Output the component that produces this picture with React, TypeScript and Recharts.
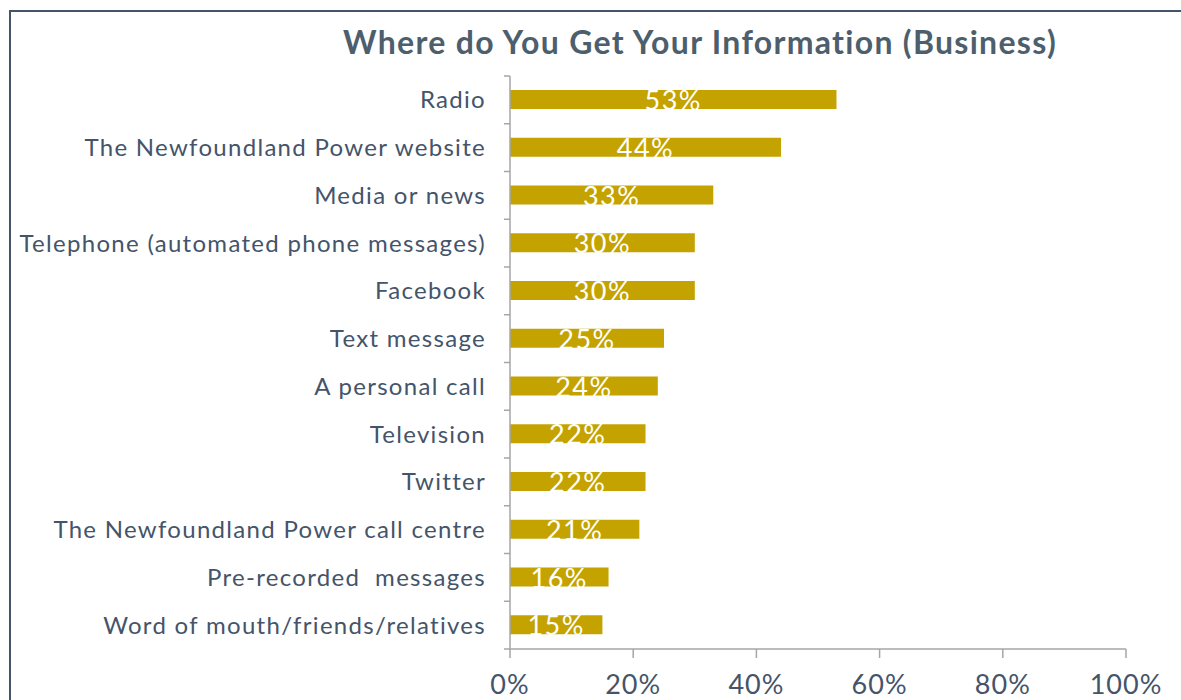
import React from "react";
import { BarChart, Bar, XAxis, YAxis, LabelList } from "recharts";

const categories = [
  "Radio",
  "The Newfoundland Power website",
  "Media or news",
  "Telephone (automated phone messages)",
  "Facebook",
  "Text message",
  "A personal call",
  "Television",
  "Twitter",
  "The Newfoundland Power call centre",
  "Pre-recorded  messages",
  "Word of mouth/friends/relatives",
];

const shares = [53, 44, 33, 30, 30, 25, 24, 22, 22, 21, 16, 15];

const xTicks = [0, 20, 40, 60, 80, 100];

const data = categories.map((name, i) => ({ name, value: shares[i] }));

const WIDTH = 1181;
const HEIGHT = 700;
const MARGIN = { top: 76, right: 55, bottom: 0, left: 0 };
const Y_AXIS_W = 510;
const X_AXIS_H = 51;
const BAND = (HEIGHT - MARGIN.top - MARGIN.bottom - X_AXIS_H) / categories.length;

const FONT = "Lato, 'Open Sans', sans-serif";
const TEXT = "#44546a";
const AXIS = "#a6a6a6";
const GOLD = "#c4a300";

const CategoryTick = ({ x, y, payload, index }: any) => {
  const axisX = Y_AXIS_W;
  const last = index === categories.length - 1;
  return (
    <g>
      <line x1={axisX - 6} x2={axisX} y1={y - BAND / 2} y2={y - BAND / 2} stroke={AXIS} strokeWidth={1.5} />
      {last && (
        <line x1={axisX - 6} x2={axisX} y1={y + BAND / 2} y2={y + BAND / 2} stroke={AXIS} strokeWidth={1.5} />
      )}
      <text
        x={x + 2}
        y={y}
        dy="0.355em"
        textAnchor="end"
        fontSize={24}
        fontFamily={FONT}
        letterSpacing={1.3}
        fill={TEXT}
        style={{ whiteSpace: "pre" }}
      >
        {payload.value}
      </text>
    </g>
  );
};

const BarLabel = ({ x, y, width, height, value }: any) => (
  <text
    x={x + width / 2}
    y={y + height + 1}
    textAnchor="middle"
    fontSize={27}
    fontFamily={FONT}
    letterSpacing={1.5}
    fill="#ffffff"
  >
    {value}%
  </text>
);

export default function App() {
  return (
    <div style={{ position: "absolute", left: 0, top: 0, width: WIDTH, height: HEIGHT, background: "#fff", overflow: "hidden" }}>
      <div
        style={{
          position: "absolute",
          left: 9,
          top: 10,
          width: 1170,
          height: 700,
          borderTop: `2px solid ${TEXT}`,
          borderLeft: `2px solid ${TEXT}`,
          borderRight: "1px solid #d9d9d9",
        }}
      />
      <div
        style={{
          position: "absolute",
          left: 0,
          top: 20,
          width: 1400,
          textAlign: "center",
          fontFamily: FONT,
          fontWeight: 700,
          fontSize: 32,
          letterSpacing: 1.3,
          color: "#4d5e6c",
          lineHeight: "44px",
        }}
      >
        Where do You Get Your Information (Business)
      </div>
      <div style={{ position: "absolute", left: 0, top: 0 }}>
        <BarChart width={WIDTH} height={HEIGHT} data={data} layout="vertical" margin={MARGIN}>
          <XAxis
            type="number"
            domain={[0, 100]}
            ticks={xTicks}
            tickFormatter={(v: number) => `${v}%`}
            height={X_AXIS_H}
            axisLine={{ stroke: AXIS, strokeWidth: 1.5 }}
            tickLine={{ stroke: AXIS, strokeWidth: 1.5 }}
            tickSize={9}
            tickMargin={17}
            tick={{ fontSize: 27, fill: TEXT, fontFamily: FONT, letterSpacing: 1 }}
            interval={0}
          />
          <YAxis
            type="category"
            dataKey="name"
            width={Y_AXIS_W}
            axisLine={{ stroke: AXIS, strokeWidth: 1.5 }}
            tickLine={false}
            tickSize={6}
            tickMargin={20}
            tick={<CategoryTick />}
            interval={0}
          />
          <Bar dataKey="value" fill={GOLD} barSize={19} isAnimationActive={false}>
            <LabelList dataKey="value" content={<BarLabel />} />
          </Bar>
        </BarChart>
      </div>
    </div>
  );
}
